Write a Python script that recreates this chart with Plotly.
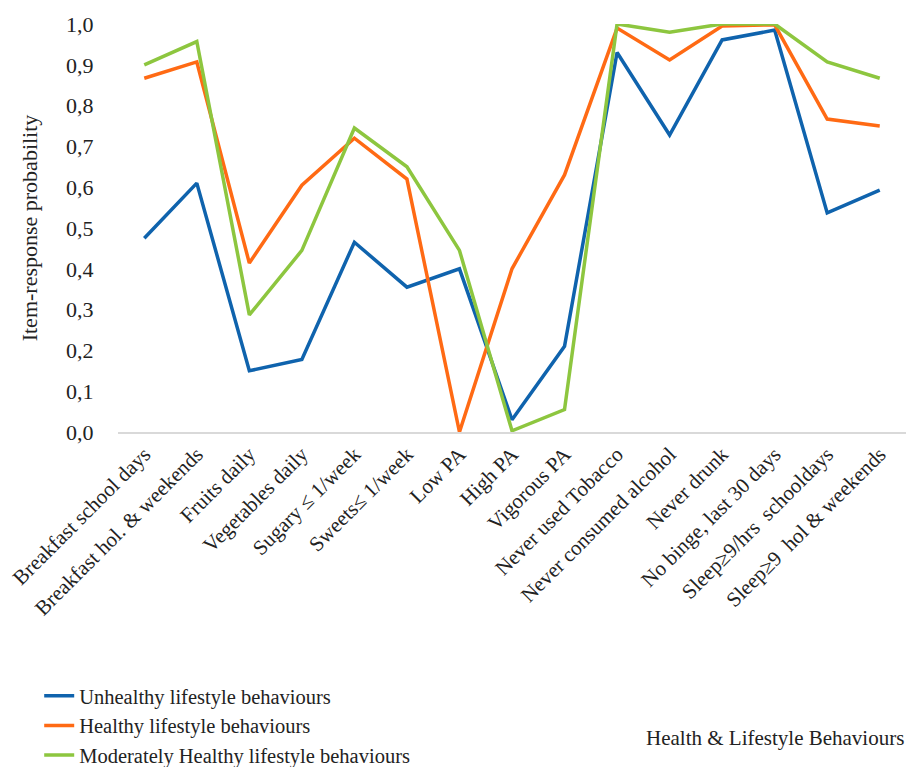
import plotly.graph_objects as go

categories = [
    "Breakfast school days", "Breakfast hol. & weekends", "Fruits daily",
    "Vegetables daily", "Sugary ≤ 1/week", "Sweets≤ 1/week", "Low PA",
    "High PA", "Vigorous PA", "Never used Tobacco", "Never consumed alcohol",
    "Never drunk", "No binge, last 30 days", "Sleep≥9/hrs  schooldays",
    "Sleep≥9  hol & weekends",
]
unhealthy = [0.475, 0.61, 0.15, 0.178, 0.465, 0.355, 0.40, 0.03, 0.21,
             0.93, 0.728, 0.961, 0.985, 0.537, 0.593]
healthy = [0.867, 0.907, 0.414, 0.605, 0.72, 0.62, 0.0, 0.40, 0.63,
           0.99, 0.912, 0.995, 0.998, 0.767, 0.75]
moderate = [0.90, 0.957, 0.287, 0.445, 0.745, 0.65, 0.445, 0.003, 0.055,
            1.0, 0.98, 1.0, 1.0, 0.907, 0.867]
series_names = ["Unhealthy lifestyle behaviours", "Healthy lifestyle behaviours",
                "Moderately Healthy lifestyle behaviours"]
y_ticks = [0.0, 0.1, 0.2, 0.3, 0.4, 0.5, 0.6, 0.7, 0.8, 0.9, 1.0]

colors = ["#0F63AD", "#FF6A14", "#8DC63F"]
font = "Liberation Serif, Times New Roman, serif"
txt = "#222"

fig = go.Figure()
for i, (name, vals, col) in enumerate(zip(series_names, [unhealthy, healthy, moderate], colors)):
    fig.add_trace(go.Scatter(x=categories, y=vals, mode="lines", name=name,
                             line=dict(color=col, width=3.5)))

fig.update_layout(
    width=909, height=767,
    margin=dict(l=118, r=3, t=24, b=335, autoexpand=False),
    paper_bgcolor="white", plot_bgcolor="white",
    separators=", ",
    font=dict(family=font, size=21, color=txt),
    showlegend=True,
    legend=dict(x=-0.1, y=-0.598, xanchor="left", yanchor="top",
                orientation="v", font=dict(family=font, size=20.5, color=txt),
                bgcolor="rgba(0,0,0,0)"),
    xaxis=dict(type="category", range=[-0.5, 14.5], tickangle=-45,
               showline=True, linecolor="#D9D9D9", linewidth=1.5,
               showgrid=False, ticks="", automargin=False,
               tickfont=dict(family=font, size=21, color=txt)),
    yaxis=dict(range=[0, 1.0], tickvals=y_ticks, tickformat=".1f",
               showgrid=False, zeroline=False, showline=False, automargin=False,
               ticks="outside", ticklen=19, tickcolor="rgba(0,0,0,0)",
               tickfont=dict(family=font, size=22, color=txt),
               title=dict(text="Item-response probability", standoff=22,
                          font=dict(family=font, size=22, color=txt))),
    annotations=[dict(text="Health & Lifestyle Behaviours", xref="paper", yref="paper",
                      x=1.0, y=-0.75, xanchor="right", yanchor="middle",
                      showarrow=False, font=dict(family=font, size=21, color=txt))],
)

fig.write_html("out.html")
